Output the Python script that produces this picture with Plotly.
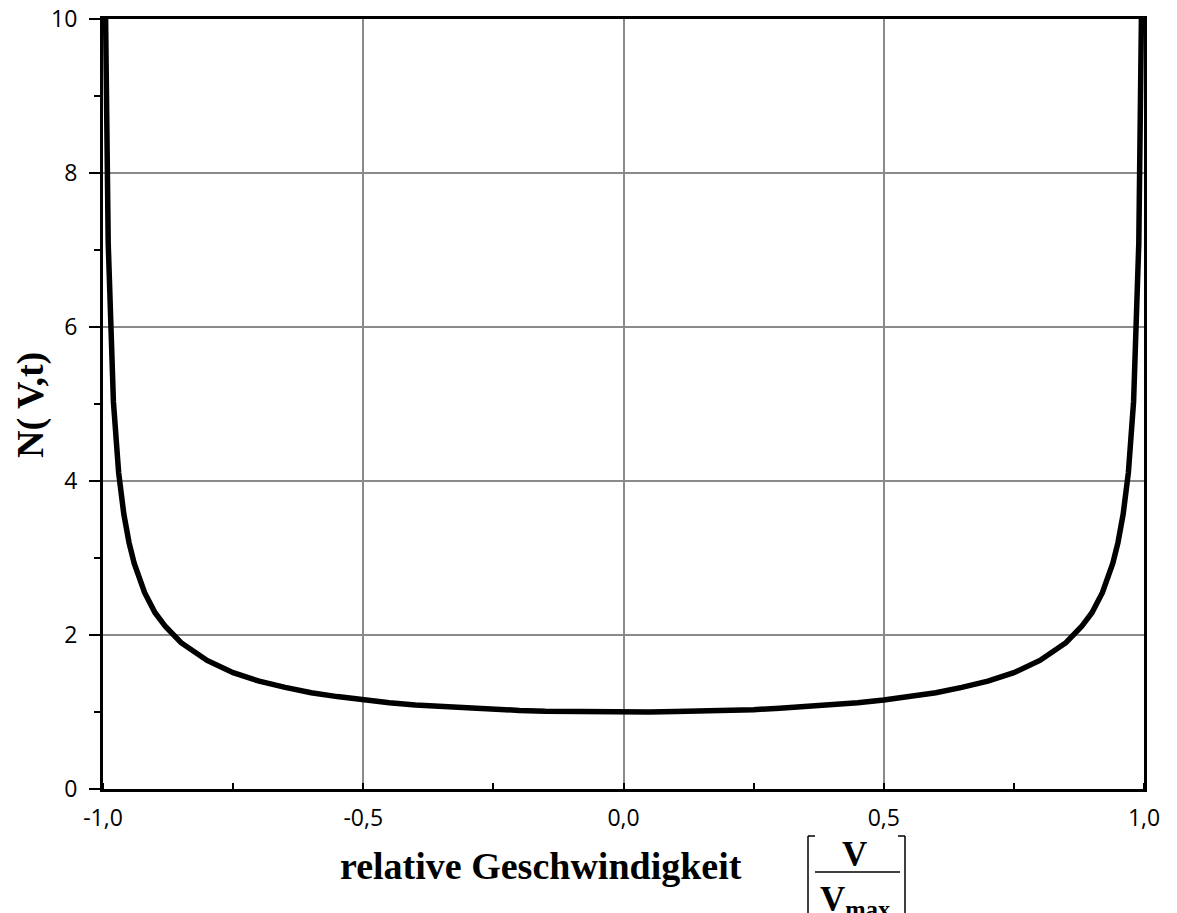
import plotly.graph_objects as go

# relative speed V/Vmax (left half, mirrored for right half)
v_left = [-0.995, -0.99, -0.98, -0.97, -0.96, -0.95, -0.94, -0.92, -0.90, -0.88,
          -0.85, -0.80, -0.75, -0.70, -0.65, -0.60, -0.55, -0.50, -0.45, -0.40,
          -0.35, -0.30, -0.25, -0.20, -0.15, -0.10, -0.05]
n_left = [10.0, 7.09, 5.03, 4.11, 3.57, 3.20, 2.93, 2.55, 2.29, 2.11,
          1.90, 1.67, 1.51, 1.40, 1.32, 1.25, 1.20, 1.155, 1.12, 1.09,
          1.07, 1.05, 1.03, 1.02, 1.01, 1.005, 1.001]
v_center = [0.0]
n_center = [1.0]

v_vals = v_left + v_center + [-x for x in reversed(v_left)]
n_vals = n_left + n_center + list(reversed(n_left))

x_tickvals = [-1.0, -0.5, 0.0, 0.5, 1.0]
x_ticktext = ["-1,0", "-0,5", "0,0", "0,5", "1,0"]
y_tickvals = [0, 2, 4, 6, 8, 10]
y_ticktext = ["0", "2", "4", "6", "8", "10"]

W, H = 1177, 913
L, R, T, B = 103, 1144, 19, 789


def px(x):
    return (x - L) / (R - L)


def py(y):
    return (B - y) / (B - T)


fig = go.Figure()
fig.add_trace(go.Scatter(x=v_vals, y=n_vals, mode="lines",
                         line=dict(color="black", width=5.5),
                         showlegend=False, hoverinfo="skip"))

tick_font = dict(family="Open Sans", size=23, color="black")
grid_col = "#8a8a8a"

fig.update_xaxes(range=[-1, 1], tickvals=x_tickvals, ticktext=x_ticktext,
                 ticks="", showgrid=True, gridcolor=grid_col, gridwidth=2,
                 zeroline=False, showline=True, linecolor="black", linewidth=3,
                 mirror=True, tickfont=tick_font, ticklabelstandoff=6,
                 ticklabeloverflow="allow",
                 minor=dict(dtick=0.25, tick0=0, ticks="inside", ticklen=6,
                            tickwidth=2, tickcolor="black", showgrid=False))
fig.update_yaxes(range=[0, 10], tickvals=y_tickvals, ticktext=y_ticktext,
                 ticks="outside", ticklen=11, tickwidth=2, tickcolor="black",
                 showgrid=True, gridcolor=grid_col, gridwidth=2,
                 zeroline=False, showline=True, linecolor="black", linewidth=3,
                 mirror=True, tickfont=tick_font, ticklabelstandoff=7,
                 ticklabeloverflow="allow",
                 minor=dict(dtick=1, tick0=0, ticks="outside", ticklen=6,
                            tickwidth=2, tickcolor="black", showgrid=False))

serif_b = dict(family="Liberation Serif", color="black")

annotations = [
    dict(x=px(541), y=py(866), xref="paper", yref="paper", showarrow=False,
         text="<b>relative Geschwindigkeit</b>", xanchor="center", yanchor="middle",
         font=dict(size=38, **serif_b)),
    dict(x=px(30), y=py(405), xref="paper", yref="paper", showarrow=False,
         text="<b>N( V,t)</b>", textangle=-90, xanchor="center", yanchor="middle",
         font=dict(size=38, **serif_b)),
    dict(x=px(854), y=py(855), xref="paper", yref="paper", showarrow=False,
         text="<b>V</b>", xanchor="center", yanchor="middle",
         font=dict(size=35, **serif_b)),
    dict(x=px(855), y=py(902), xref="paper", yref="paper", showarrow=False,
         text="<b>V<sub>max</sub></b>", xanchor="center", yanchor="middle",
         font=dict(size=35, **serif_b)),
]

shp = dict(type="line", xref="paper", yref="paper",
           line=dict(color="black", width=1.5))
shapes = [
    dict(x0=px(808), x1=px(808), y0=py(836), y1=py(915), **shp),
    dict(x0=px(808), x1=px(815), y0=py(836), y1=py(836), **shp),
    dict(x0=px(905), x1=px(905), y0=py(836), y1=py(915), **shp),
    dict(x0=px(898), x1=px(905), y0=py(836), y1=py(836), **shp),
    dict(x0=px(815), x1=px(900), y0=py(872), y1=py(872), **shp),
]

fig.update_layout(width=W, height=H, plot_bgcolor="white",
                  paper_bgcolor="white",
                  margin=dict(l=L, r=W - R, t=T, b=H - B, autoexpand=False),
                  annotations=annotations, shapes=shapes, showlegend=False)

fig.write_html("out.html", config={"displayModeBar": False},
               post_script="document.body.style.margin='0';"
                           "document.body.style.overflow='hidden';")
